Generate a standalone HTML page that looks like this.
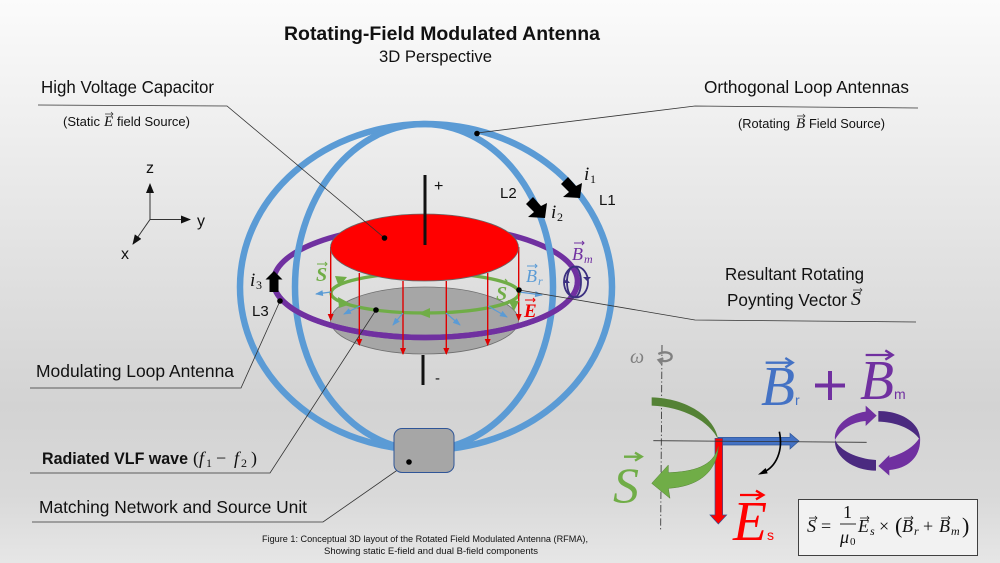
<!DOCTYPE html>
<html><head><meta charset="utf-8"><style>
html,body{margin:0;padding:0;width:1000px;height:563px;overflow:hidden}
svg{display:block}
text{font-family:"Liberation Sans",sans-serif;fill:#111}
.m{font-family:"Liberation Serif",serif;font-style:italic}
.r{font-family:"Liberation Serif",serif}
</style></head><body>
<svg width="1000" height="563" viewBox="0 0 1000 563" xmlns="http://www.w3.org/2000/svg">
<defs>
<linearGradient id="bg" x1="0" y1="0" x2="0" y2="1">
<stop offset="0" stop-color="#fbfbfb"/><stop offset=".72" stop-color="#d3d3d3"/><stop offset=".88" stop-color="#d9d9d9"/><stop offset="1" stop-color="#e6e6e6"/>
</linearGradient>
<marker id="ar" markerWidth="7" markerHeight="7" refX="6" refY="3" orient="auto" markerUnits="userSpaceOnUse"><path d="M0,0L7,3L0,6Z" fill="#e00000"/></marker>
<marker id="ab" markerWidth="8" markerHeight="6" refX="7" refY="3" orient="auto" markerUnits="userSpaceOnUse"><path d="M0,0L8,3L0,6Z" fill="#5b9bd5"/></marker>
<marker id="ak" markerWidth="10" markerHeight="8" refX="9" refY="4" orient="auto" markerUnits="userSpaceOnUse"><path d="M0,0L10,4L0,8Z" fill="#111"/></marker>
</defs>
<rect width="1000" height="563" fill="url(#bg)"/>

<!-- gray plate and green ring -->
<ellipse cx="424.5" cy="320.5" rx="94" ry="33.5" fill="#a6a6a6" stroke="#707070" stroke-width=".8"/>
<ellipse cx="425" cy="293" rx="94" ry="20" fill="none" stroke="#70ad47" stroke-width="3.3"/>

<!-- purple loop, back -->
<ellipse cx="425.5" cy="281.5" rx="152" ry="56" fill="none" stroke="#7030a0" stroke-width="5.5"/>

<!-- blue loops -->
<ellipse cx="426" cy="287" rx="186" ry="163" fill="none" stroke="#5b9bd5" stroke-width="6.5"/>
<ellipse cx="424" cy="287" rx="129" ry="163" fill="none" stroke="#5b9bd5" stroke-width="6.5"/>

<!-- purple loop, front -->
<path d="M273.5,281.5A152,56 0 0 0 577.5,281.5" fill="none" stroke="#7030a0" stroke-width="5.5"/>

<!-- E-field arrows -->
<g stroke="#e00000" stroke-width="1.4" fill="none">
<line x1="330.7" y1="247" x2="330.7" y2="320" marker-end="url(#ar)"/>
<line x1="359.3" y1="273" x2="359.3" y2="345" marker-end="url(#ar)"/>
<line x1="403" y1="281" x2="403" y2="354" marker-end="url(#ar)"/>
<line x1="446.3" y1="281" x2="446.3" y2="354" marker-end="url(#ar)"/>
<line x1="487.7" y1="273" x2="487.7" y2="345" marker-end="url(#ar)"/>
<line x1="518.7" y1="247" x2="518.7" y2="320" marker-end="url(#ar)"/>
</g>

<!-- B-field small arrows -->
<g stroke="#5b9bd5" stroke-width="1.2">
<line x1="331" y1="292" x2="316" y2="294" marker-end="url(#ab)"/>
<line x1="360" y1="306" x2="344" y2="314" marker-end="url(#ab)"/>
<line x1="403" y1="313" x2="393" y2="325" marker-end="url(#ab)"/>
<line x1="446" y1="313" x2="460" y2="325" marker-end="url(#ab)"/>
<line x1="488" y1="306" x2="507" y2="317" marker-end="url(#ab)"/>
<line x1="519" y1="292" x2="542" y2="295" marker-end="url(#ab)"/>
</g>

<!-- green ring arrowheads -->
<g fill="#70ad47">
<path d="M335,276L347,277L339,287Z"/>
<path d="M338,297L351,304L339,308Z"/>
<path d="M418,313.5L430,308L430,318Z"/>
<path d="M514,311L508,300L519,301Z"/>
</g>

<!-- red plate and rods -->
<ellipse cx="424.5" cy="247.5" rx="94" ry="33.5" fill="#ff0000" stroke="#666" stroke-width=".8"/>
<line x1="425" y1="175" x2="425" y2="245" stroke="#111" stroke-width="3"/>
<line x1="423" y1="355" x2="423" y2="385" stroke="#111" stroke-width="3"/>

<!-- purple coil -->
<g fill="none" stroke="#3b2f80" stroke-width="1.8">
<ellipse cx="576" cy="282" rx="12" ry="15.5"/>
<ellipse cx="574" cy="282" rx="7" ry="15.5"/>
</g>
<path d="M563,283l3.5,-4l3.5,4ZM583,277l4,4l4,-4Z" fill="#3b2f80"/>

<!-- current arrows -->
<g fill="#000">
<path id="blk" d="M580,198L582,183L576,186L568,177L561,184L569,192L563,197Z"/>
<path d="M545,218L547,203L541,206L533,197L526,204L534,212L528,217Z"/>
<path d="M274,271L282.5,279.5L278.5,279.5L278.5,292L269.5,292L269.5,279.5L265.5,279.5Z"/>
</g>

<!-- leader lines -->
<g fill="none" stroke="#333" stroke-width=".8">
<polyline points="38,105 227,106 384.5,238"/>
<polyline points="918,108 695,106 477,133"/>
<polyline points="519,290 695,320 916,322"/>
<polyline points="280,301 241,388 30,388"/>
<polyline points="376,310 270,473 30,473"/>
<polyline points="409,462 323,522 32,522"/>
</g>
<g fill="#000">
<circle cx="384.5" cy="238" r="2.8"/><circle cx="477" cy="133.5" r="2.8"/>
<circle cx="519" cy="290" r="2.8"/><circle cx="280" cy="301" r="2.8"/>
<circle cx="376" cy="310" r="2.8"/>
</g>

<!-- matching box -->
<rect x="394" y="428.5" width="60" height="44" rx="8" fill="#a6a6a6" stroke="#2f5597" stroke-width="1"/>
<circle cx="409" cy="462" r="2.8" fill="#000"/>

<!-- axes -->
<g stroke="#333" stroke-width="1">
<line x1="150" y1="219.5" x2="150" y2="184" marker-end="url(#ak)"/>
<line x1="150" y1="219.5" x2="190" y2="219.5" marker-end="url(#ak)"/>
<line x1="150" y1="219.5" x2="133" y2="244" marker-end="url(#ak)"/>
</g>
<text x="146" y="173" font-size="16">z</text>
<text x="197" y="226" font-size="16">y</text>
<text x="121" y="259" font-size="16">x</text>

<!-- main text -->
<text x="284" y="40" font-size="19" font-weight="bold" textLength="316" lengthAdjust="spacingAndGlyphs">Rotating-Field Modulated Antenna</text>
<text x="379" y="62" font-size="17" textLength="113" lengthAdjust="spacingAndGlyphs">3D Perspective</text>
<text x="41" y="93" font-size="17.5" textLength="173" lengthAdjust="spacingAndGlyphs">High Voltage Capacitor</text>
<text x="63" y="126" font-size="12.5" textLength="37" lengthAdjust="spacingAndGlyphs">(Static</text>
<text x="104" y="126" font-size="15" class="m">E</text>
<path d="M105,114H113M111,112l2,2l-2,2" fill="none" stroke="#333" stroke-width=".7"/>
<text x="117" y="126" font-size="12.5" textLength="73" lengthAdjust="spacingAndGlyphs">field Source)</text>
<text x="704" y="93" font-size="17.5" textLength="205" lengthAdjust="spacingAndGlyphs">Orthogonal Loop Antennas</text>
<text x="738" y="128" font-size="12.5" textLength="52" lengthAdjust="spacingAndGlyphs">(Rotating</text>
<text x="796" y="128" font-size="15" class="m">B</text>
<path d="M797,116H805M803,114l2,2l-2,2" fill="none" stroke="#333" stroke-width=".7"/>
<text x="809" y="128" font-size="12.5" textLength="76" lengthAdjust="spacingAndGlyphs">Field Source)</text>
<text x="725" y="280" font-size="17.5" textLength="139" lengthAdjust="spacingAndGlyphs">Resultant Rotating</text>
<text x="727" y="306" font-size="17.5" textLength="120" lengthAdjust="spacingAndGlyphs">Poynting Vector</text>
<text x="851" y="305" font-size="20" class="m">S</text>
<path d="M853,290H862M860,288l2,2l-2,2" fill="none" stroke="#333" stroke-width=".7"/>
<text x="36" y="377" font-size="17.5" textLength="198" lengthAdjust="spacingAndGlyphs">Modulating Loop Antenna</text>
<text x="42" y="464" font-size="16.5" font-weight="bold" textLength="146" lengthAdjust="spacingAndGlyphs">Radiated VLF wave</text>
<g font-size="18">
<text x="193" y="464" class="r">(</text>
<text x="199" y="464" class="m">f</text>
<text x="206" y="467" font-size="12" class="r">1</text>
<text x="216" y="464" class="r">−</text>
<text x="234" y="464" class="m">f</text>
<text x="241" y="467" font-size="12" class="r">2</text>
<text x="251" y="464" class="r">)</text>
</g>
<text x="39" y="513" font-size="17.5" textLength="268" lengthAdjust="spacingAndGlyphs">Matching Network and Source Unit</text>
<text x="262" y="542" font-size="9.6" textLength="326" lengthAdjust="spacingAndGlyphs">Figure 1: Conceptual 3D layout of the Rotated Field Modulated Antenna (RFMA),</text>
<text x="324" y="554" font-size="9.6" textLength="214" lengthAdjust="spacingAndGlyphs">Showing static E-field and dual B-field components</text>
<text x="434" y="191" font-size="16">+</text>
<text x="435" y="383" font-size="15">-</text>

<!-- loop labels -->
<text x="584" y="180" font-size="19" class="m">i</text><text x="590" y="183" font-size="12" class="r">1</text>
<text x="599" y="205" font-size="15">L1</text>
<text x="500" y="198" font-size="15">L2</text>
<text x="551" y="218" font-size="19" class="m">i</text><text x="557" y="221" font-size="12" class="r">2</text>
<text x="250" y="286" font-size="19" class="m">i</text><text x="256" y="289" font-size="12" class="r">3</text>
<text x="252" y="316" font-size="15">L3</text>

<!-- field labels on diagram -->
<text x="316" y="281" font-size="20" font-weight="bold" class="m" style="fill:#70ad47">S</text>
<text x="496" y="300" font-size="20" font-weight="bold" class="m" style="fill:#70ad47">S</text>
<text x="526" y="282" font-size="18" class="m" style="fill:#5b9bd5">B</text>
<text x="538" y="285" font-size="12" class="m" style="fill:#5b9bd5">r</text>
<text x="524" y="317" font-size="19" font-weight="bold" class="m" style="fill:#f00000">E</text>
<text x="572" y="260" font-size="18" class="m" style="fill:#7030a0">B</text>
<text x="584" y="263" font-size="12" class="m" style="fill:#7030a0">m</text>
<g fill="none" stroke-width="1">
<path d="M317,264H327M325,262l2,2l-2,2" stroke="#70ad47"/>
<path d="M497,281H507M505,279l2,2l-2,2" stroke="#70ad47"/>
<path d="M527,266H537M535,264l2,2l-2,2" stroke="#5b9bd5"/>
<path d="M525,300H535M533,298l2,2l-2,2" stroke="#f00000"/>
<path d="M574,243H584M582,241l2,2l-2,2" stroke="#7030a0"/>
</g>

<!-- right side vector diagram, coordinates at 3x -->
<g transform="translate(600,340) scale(.33333)">
<line x1="186" y1="15" x2="182" y2="570" stroke="#333" stroke-width="2.5" stroke-dasharray="22,7,4,7"/>
<path d="M175,42C195,32 215,38 215,50C215,64 190,66 178,60M190,55L176,60L186,72" fill="none" stroke="#808080" stroke-width="7"/>
<path d="M155,172C260,175 345,230 355,300C330,245 250,200 155,197Z" fill="#548235"/>
<path d="M355,292H570V280L597,303L570,327V315H355Z" fill="#4472c4" stroke="#2f5597" stroke-width="2"/>
<path d="M345,295H368V525H380L355,552L330,525H345Z" fill="#ff0000" stroke="#2f5597" stroke-width="2"/>
<path d="M355,320C340,380 280,395 205,398L205,375L155,430L210,475L205,445C290,440 350,400 355,320Z" fill="#70ad47" stroke="#548235" stroke-width="1.5"/>
<line x1="160" y1="302" x2="800" y2="307" stroke="#333" stroke-width="2.4"/>
<path d="M538,275C550,330 530,380 488,398" fill="none" stroke="#000" stroke-width="5"/>
<path d="M474,404L497,384L503,400Z" fill="#000"/>
<path d="M835,213C905,213 962,250 960,300C940,268 890,246 835,245Z" fill="#4b2a80"/>
<path d="M705,300C720,332 770,356 828,360V392C760,392 702,350 705,300Z" fill="#4b2a80"/>
<path d="M705,300C700,258 745,222 797,215V197L830,227L797,258V243C755,246 722,268 705,300Z" fill="#7030a0"/>
<path d="M960,290C945,320 910,340 868,353V345L835,378L868,407V390C925,385 965,350 960,290Z" fill="#7030a0"/>
<g fill="none" stroke-width="7">
<path d="M497,68H578M556,54L578,68L556,82" stroke="#4472c4"/>
<path d="M797,45H878M856,31L878,45L856,59" stroke="#7030a0"/>
<path d="M72,350H125M105,338L125,350L105,362" stroke="#70ad47"/>
<path d="M420,465H490M468,452L490,465L468,478" stroke="#ff0000"/>
</g>
</g>
<text x="630" y="363" font-size="20" class="m" style="fill:#808080">ω</text>
<text x="761" y="405" font-size="56" class="m" style="fill:#4472c4" textLength="34" lengthAdjust="spacingAndGlyphs">B</text>
<text x="795" y="405" font-size="14" style="fill:#4472c4">r</text>
<path d="M815,385.500H845M830,371V400" stroke="#7030a0" stroke-width="4" fill="none"/>
<text x="860" y="399" font-size="56" class="m" style="fill:#7030a0" textLength="34" lengthAdjust="spacingAndGlyphs">B</text>
<text x="894" y="399" font-size="14" style="fill:#7030a0">m</text>
<text x="613" y="502" font-size="50" class="m" style="fill:#70ad47" textLength="26" lengthAdjust="spacingAndGlyphs">S</text>
<text x="733" y="540" font-size="56" class="m" style="fill:#ff0000" textLength="34" lengthAdjust="spacingAndGlyphs">E</text>
<text x="767" y="540" font-size="14" style="fill:#ff0000">s</text>

<!-- formula box -->
<rect x="798.500" y="499.500" width="179" height="56" fill="#f2f2f2" stroke="#404040" stroke-width="1"/>
<g font-size="18">
<text x="807" y="532" class="m">S</text>
<text x="821" y="532" class="r">=</text>
<text x="843" y="518" class="r">1</text>
<line x1="840" y1="524" x2="856" y2="524" stroke="#111" stroke-width=".9"/>
<text x="840" y="543" class="m">μ</text><text x="850" y="545" font-size="11" class="r">0</text>
<text x="858" y="532" class="m">E</text><text x="870" y="535" font-size="12" class="m">s</text>
<text x="879" y="532" class="r">×</text>
<text x="895" y="533" font-size="22" class="r">(</text>
<text x="902" y="532" class="m">B</text><text x="914" y="535" font-size="12" class="m">r</text>
<text x="923" y="532" class="r">+</text>
<text x="939" y="532" class="m">B</text><text x="951" y="535" font-size="12" class="m">m</text>
<text x="962" y="533" font-size="22" class="r">)</text>
</g>
<path d="M809,518H817M815,516l2,2l-2,2M860,518H869M867,516l2,2l-2,2M904,518H913M911,516l2,2l-2,2M941,518H950M948,516l2,2l-2,2" fill="none" stroke="#111" stroke-width=".7"/>
</svg>
</body></html>
